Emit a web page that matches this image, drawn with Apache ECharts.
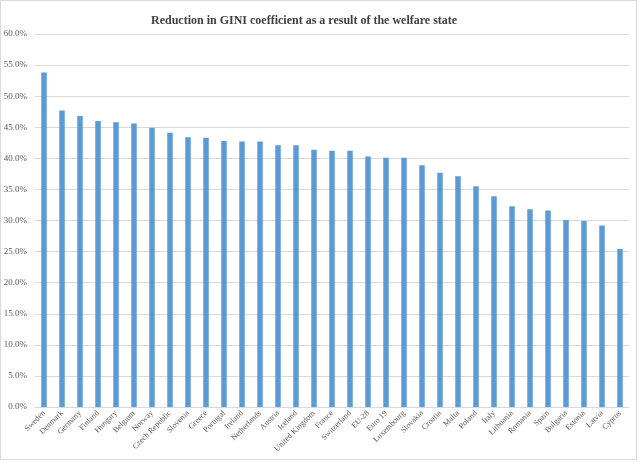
<!DOCTYPE html>
<html>
<head>
<meta charset="utf-8">
<script src="https://cdn.jsdelivr.net/npm/echarts@6/dist/echarts.min.js"></script>
<style>
  html, body { margin: 0; padding: 0; background: #fff; }
  #chart { width: 640px; height: 465px; }
</style>
</head>
<body>
<div id="chart"></div>
<script>
var countries = ['Sweden', 'Denmark', 'Germany', 'Finland', 'Hungary', 'Belgium', 'Norway',
  'Czech Republic', 'Slovenia', 'Greece', 'Portugal', 'Ireland', 'Netherlands', 'Austria',
  'Iceland', 'United Kingdom', 'France', 'Switzerland', 'EU-28', 'Euro 19', 'Luxembourg',
  'Slovakia', 'Croatia', 'Malta', 'Poland', 'Italy', 'Lithuania', 'Romania', 'Spain',
  'Bulgaria', 'Estonia', 'Latvia', 'Cyprus'];
var reduction = [53.8, 47.7, 46.8, 46.0, 45.8, 45.6, 44.9,
  44.1, 43.4, 43.3, 42.8, 42.7, 42.7, 42.1,
  42.1, 41.4, 41.2, 41.2, 40.3, 40.1, 40.1,
  38.9, 37.7, 37.1, 35.5, 33.9, 32.3, 31.8, 31.6,
  30.1, 29.9, 29.2, 25.4];

var chart = echarts.init(document.getElementById('chart'));
chart.setOption({
  animation: false,
  graphic: [{
    type: 'rect',
    shape: { x: 0.5, y: 0.5, width: 636, height: 459 },
    style: { fill: 'none', stroke: '#d9d9d9', lineWidth: 1 }
  }],
  title: {
    text: 'Reduction in GINI coefficient as a result of the welfare state',
    left: 146,
    top: 10,
    textStyle: {
      fontFamily: 'Liberation Serif',
      fontSize: 12,
      fontWeight: 'bold',
      color: '#404040'
    }
  },
  grid: { left: 35, right: 11, top: 34, bottom: 58 },
  xAxis: {
    type: 'category',
    data: countries,
    axisTick: { show: false },
    axisLine: { lineStyle: { color: '#d9d9d9' } },
    axisLabel: {
      interval: 0,
      rotate: 45,
      margin: 5,
      fontFamily: 'Liberation Serif',
      fontSize: 8,
      color: '#595959'
    }
  },
  yAxis: {
    type: 'value',
    min: 0,
    max: 60,
    interval: 5,
    axisLine: { show: false },
    axisTick: { show: false },
    splitLine: { lineStyle: { color: '#d9d9d9' } },
    axisLabel: {
      formatter: function (v) { return v.toFixed(1) + '%'; },
      margin: 8,
      fontFamily: 'Liberation Serif',
      fontSize: 9,
      color: '#595959'
    }
  },
  series: [{
    type: 'bar',
    data: reduction,
    barWidth: 5.5,
    itemStyle: { color: '#5b9bd5' }
  }]
});
</script>
</body>
</html>
